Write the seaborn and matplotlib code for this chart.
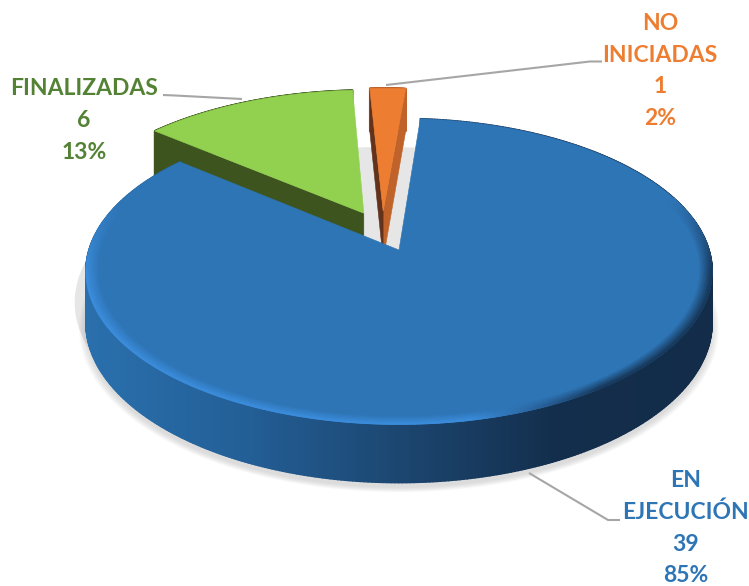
import numpy as np
import matplotlib
matplotlib.use('Agg')
import matplotlib.pyplot as plt
import matplotlib.colors as mcolors
from matplotlib.collections import PolyCollection
import seaborn as sns

# datos del grafico
categorias = ['EN\nEJECUCIÓN', 'FINALIZADAS', 'NO\nINICIADAS']
valores = [39, 6, 1]
separacion = [0.14, 0.14, 0.14]
colores = ['#2e75b6', '#92d050', '#ed7d31']
colores_texto = ['#2e75b6', '#548235', '#ed7d31']

sns.set_theme(style='white')
plt.rcParams['font.family'] = ['Lato', 'DejaVu Sans']

# parametros de la vista 3D (pixeles)
CX, CY = 399, 250
A, B = 310, 150
K = 0.14
PROF = 50

fig = plt.figure(figsize=(7.49, 5.86), dpi=100)
ax = fig.add_axes([0, 0, 1, 1])

# el pie calcula angulos y centros, luego se proyecta cada porcion
wedges, _ = ax.pie(valores, explode=separacion, startangle=85.5, counterclock=False)
geo = [(w.center, w.r, min(w.theta1, w.theta2), max(w.theta1, w.theta2)) for w in wedges]
for w in wedges:
    w.remove()
ax.set_aspect('auto')
ax.set_xlim(0, 749)
ax.set_ylim(586, 0)
ax.axis('off')

ref = geo[0][0]


def proyectar(x, y, bajar=0.0):
    xr = np.asarray(x) - ref[0]
    yr = np.asarray(y) - ref[1]
    w = 1 + K * yr
    return CX + A * xr / w, CY - B * yr / w + bajar * PROF / w


def puntos_arco(c, r, t1, t2, n):
    t = np.radians(np.linspace(t1, t2, n))
    return c[0] + r * np.cos(t), c[1] + r * np.sin(t)


def contorno(c, r, t1, t2, bajar=0.0, n=300):
    x, y = puntos_arco(c, r, t1, t2, n)
    x = np.r_[c[0], x]
    y = np.r_[c[1], y]
    px, py = proyectar(x, y, bajar)
    return np.column_stack([px, py])


grad_lado = sns.blend_palette(['#2a70ad', '#235f97', '#1c4670', '#132e4c', '#122c49'], 256)


def color_lado(px):
    i = int(np.clip((px - 85) / (712 - 85), 0, 1) * 255)
    return grad_lado[i]


# sombra de fondo, visible solo en los huecos
ax.add_patch(plt.Polygon(contorno((0, 0), 1.0, 0, 360, bajar=1.0), closed=True,
                         facecolor='#e6e6e6', edgecolor='none', zorder=1))

# sombra suave de la porcion grande, solo hacia abajo
c, r, t1, t2 = geo[0]
for esc in np.linspace(1.022, 1.0, 8):
    pol = contorno(c, r * esc, t1, t2, bajar=1.0)
    pol[:, 1] += 5
    ax.add_patch(plt.Polygon(pol, closed=True, facecolor='#808080', alpha=0.035,
                             edgecolor='none', zorder=2))


def pared(p1, p2, color, z):
    # cara radial entre el centro y el borde
    x = np.array([p1[0], p2[0]])
    y = np.array([p1[1], p2[1]])
    xa, ya = proyectar(x, y)
    xb, yb = proyectar(x, y, 1.0)
    pol = np.column_stack([np.r_[xa, xb[::-1]], np.r_[ya, yb[::-1]]])
    ax.add_patch(plt.Polygon(pol, closed=True, facecolor=color, edgecolor=color, lw=0.4, zorder=z))


def lado_curvo(c, r, t1, t2, colorfn, z, n=300):
    x, y = puntos_arco(c, r, t1, t2, n)
    xa, ya = proyectar(x, y)
    xb, yb = proyectar(x, y, 1.0)
    quads, cols = [], []
    for i in range(n - 1):
        quads.append([(xa[i], ya[i]), (xa[i + 1], ya[i + 1]), (xb[i + 1], yb[i + 1]), (xb[i], yb[i])])
        cols.append(colorfn(xa[i]))
    ax.add_collection(PolyCollection(quads, facecolors=cols, edgecolors=cols, linewidths=1.2, zorder=z))


# verde
c, r, t1, t2 = geo[1]
z = 3
lado_curvo(c, r, t1, t2, lambda px: '#3d541f', z)
xe, ye = puntos_arco(c, r, t2, t2, 1)
pared(c, (xe[0], ye[0]), '#3d541f', z + 1)
ax.add_patch(plt.Polygon(contorno(c, r, t1, t2), closed=True, facecolor=colores[1],
                         edgecolor=colores[1], lw=0.4, zorder=z + 2))

# naranja
c, r, t1, t2 = geo[2]
z = 6
lado_curvo(c, r, t1, t2, lambda px: '#c0632a', z)
xe, ye = puntos_arco(c, r, t1, t1, 1)
pared(c, (xe[0], ye[0]), '#c0632a', z + 1)
xe, ye = puntos_arco(c, r, t2, t2, 1)
pared(c, (xe[0], ye[0]), '#63321a', z + 1)
ax.add_patch(plt.Polygon(contorno(c, r, t1, t2), closed=True, facecolor=colores[2],
                         edgecolor=colores[2], lw=0.4, zorder=z + 2))

# azul
c, r, t1, t2 = geo[0]
z = 9
lado_curvo(c, r, t1, t2, color_lado, z, n=500)
ax.add_patch(plt.Polygon(contorno(c, r, t1, t2), closed=True, facecolor=colores[0],
                         edgecolor=colores[0], lw=0.4, zorder=z + 1))

# bisel del borde: claro a la izquierda, oscuro a la derecha
base = np.array(mcolors.to_rgb(colores[0]))
claro = np.array(mcolors.to_rgb('#3b8cdb'))
oscuro = np.array(mcolors.to_rgb('#17395c'))
bandas = np.linspace(0.962, 1.0, 9)
quads, cols = [], []
n = 400
for j in range(len(bandas) - 1):
    f = (j + 1) / (len(bandas) - 1)
    xa, ya = puntos_arco(c, r * bandas[j], t1, t2, n)
    xb, yb = puntos_arco(c, r * bandas[j + 1], t1, t2, n)
    pxa, pya = proyectar(xa, ya)
    pxb, pyb = proyectar(xb, yb)
    for i in range(n - 1):
        frente = np.clip((0.35 - (yb[i] - c[1])) / 0.5, 0, 1)
        if frente <= 0:
            continue
        m = np.clip((pxb[i] - 470) / 130, 0, 1)
        borde = claro * (1 - m) + oscuro * m
        g = f * frente
        quads.append([(pxa[i], pya[i]), (pxa[i + 1], pya[i + 1]), (pxb[i + 1], pyb[i + 1]), (pxb[i], pyb[i])])
        cols.append(tuple(base * (1 - g) + borde * g))
ax.add_collection(PolyCollection(quads, facecolors=cols, edgecolors=cols, linewidths=0.6, zorder=z + 2))

# lineas guia
guias_x = [[529, 608, 620], [163, 175, 242], [386, 590, 602]]
guias_y = [[473, 520, 520], [95, 95.5, 99], [85, 61.5, 61.5]]
for gx, gy in zip(guias_x, guias_y):
    ax.plot(gx, gy, color='#a6a6a6', lw=1.5, solid_capstyle='butt', zorder=13)

# etiquetas con nombre, valor y porcentaje
total = sum(valores)
pos_etiquetas = [(686, 528), (84, 120.5), (660, 71)]
for cat, v, col, (tx, ty) in zip(categorias, valores, colores_texto, pos_etiquetas):
    ax.text(tx, ty, f'{cat}\n{v}\n{round(100 * v / total)}%', color=col, ha='center', va='center',
            fontsize=16.5, fontweight='bold', linespacing=1.62, zorder=14)

fig.savefig('out.png', dpi=100, facecolor='white')
